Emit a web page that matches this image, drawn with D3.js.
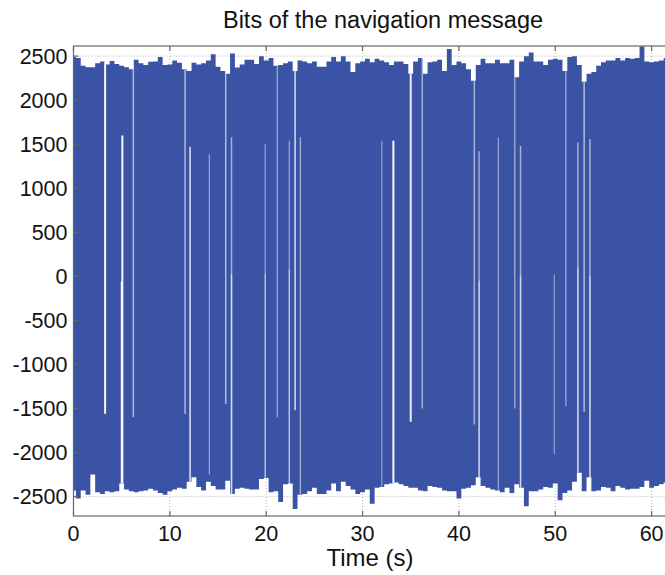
<!DOCTYPE html>
<html>
<head>
<meta charset="utf-8">
<script src="https://cdn.jsdelivr.net/npm/d3@7"></script>
<style>
  body { margin: 0; background: #fff; }
  text { font-family: "Liberation Sans", Arial, sans-serif; fill: #111; }
</style>
</head>
<body>
<div id="chart"></div>
<script>
// envelope of the correlator output, sampled every 0.5 s from 0 to 62 s
const sampleStep = 0.5;
const topEnv = [
  2490, 2480, 2390, 2375, 2375, 2420, 2440, 2405, 2445, 2410, 2390, 2375, 2350, 2460, 2420, 2400, 2435, 2440, 2490, 2400, 2405, 2450, 2425, 2350, 2330,
  2425, 2405, 2420, 2450, 2520, 2380, 2330, 2300, 2530, 2370, 2405, 2460, 2460, 2410, 2500, 2450, 2480, 2390, 2400, 2420, 2440, 2330, 2450, 2440, 2420,
  2440, 2380, 2380, 2440, 2490, 2440, 2500, 2440, 2320, 2420, 2440, 2470, 2430, 2470, 2450, 2430, 2400, 2440, 2440, 2410, 2300, 2440, 2480, 2300, 2430,
  2440, 2460, 2330, 2580, 2400, 2440, 2420, 2350, 2220, 2400, 2470, 2420, 2420, 2460, 2420, 2420, 2460, 2260, 2440, 2500, 2540, 2440, 2440, 2400, 2460,
  2470, 2460, 2330, 2490, 2500, 2400, 2210, 2300, 2320, 2390, 2430, 2450, 2450, 2480, 2450, 2480, 2470, 2480, 2610, 2440, 2430, 2440, 2450, 2480, 2470
];
const botEnv = [
  -2430, -2520, -2430, -2480, -2250, -2450, -2470, -2440, -2450, -2440, -2350, -2420, -2440, -2450, -2440, -2430, -2410, -2430, -2460, -2480, -2440, -2420, -2400, -2410, -2330,
  -2280, -2390, -2430, -2330, -2380, -2420, -2420, -2320, -2470, -2410, -2400, -2410, -2420, -2420, -2300, -2290, -2450, -2440, -2560, -2360, -2350, -2640, -2480, -2470, -2440,
  -2400, -2470, -2470, -2430, -2350, -2440, -2330, -2380, -2420, -2470, -2450, -2420, -2580, -2400, -2390, -2360, -2350, -2340, -2360, -2380, -2400, -2400, -2430, -2440, -2380,
  -2390, -2400, -2430, -2440, -2440, -2520, -2410, -2400, -2370, -2280, -2380, -2400, -2420, -2430, -2450, -2400, -2460, -2360, -2400, -2610, -2440, -2440, -2420, -2390, -2400,
  -2350, -2540, -2460, -2430, -2330, -2230, -2440, -2280, -2440, -2430, -2390, -2400, -2440, -2380, -2400, -2420, -2410, -2410, -2390, -2320, -2400, -2380, -2360, -2340, -2350
];

// bit transitions (white stripes): time, upper and lower value
const gapTime = [3.28, 5.07, 4.98, 6.21, 11.58, 12.1, 14.1, 15.8, 16.4, 16.4, 19.9, 19.9, 21.15, 22.4, 22.4, 23.0, 23.55,
                 32.0, 33.2, 35.0, 36.2, 41.6, 42.1, 42.1, 44.1, 45.8, 46.4, 46.4, 49.9, 51.1, 52.35, 52.35, 53.0, 53.6, 53.6];
const gapHigh = [2700, 1600, -60, 2700, 2700, 1470, 1385, 2700, 1580, 25, 1500, 30, 2700, 1540, 80, 2700, 1580,
                 1540, 1540, 2700, 2700, 2700, 1420, -50, 1575, 2700, 1480, 0, 25, 2700, 1520, 100, 2700, 1560, 0];
const gapLow  = [-1560, -2800, -2800, -1600, -1560, -2800, -2250, -1450, -2800, -2800, -2800, -2800, -1600, -2800, -2800, -1520, -2800,
                 -2800, -2800, -1650, -1500, -1680, -2800, -2800, -2800, -1500, -2800, -2800, -2020, -1470, -2800, -2800, -1540, -2800, -2800];

const yTicks = [-2500, -2000, -1500, -1000, -500, 0, 500, 1000, 1500, 2000, 2500];
const xTicks = [0, 10, 20, 30, 40, 50, 60];

// stripe look
const gapAlpha = [0.95, 0.95, 0.9, 0.6, 0.6, 0.85, 0.5, 0.6, 0.55, 0.5, 0.45, 0.4, 0.5, 0.45, 0.45, 0.8, 0.55,
                  0.45, 0.95, 0.9, 0.55, 0.55, 0.5, 0.45, 0.5, 0.55, 0.55, 0.45, 0.45, 0.5, 0.55, 0.45, 0.6, 0.55, 0.45];
const gapWidth = [2, 2, 1.5, 1.5, 1.5, 1.5, 1.2, 1.5, 1.5, 1.5, 1.3, 1.3, 1.3, 1.3, 1.3, 1.5, 1.3,
                  1.2, 2, 2, 1.5, 1.5, 1.5, 1.5, 1.2, 1.3, 1.5, 1.5, 1.2, 1.3, 1.5, 1.5, 1.5, 1.5, 1.5];

const width = 665, height = 575;
const margin = { top: 46, left: 73.5, bottom: 59 };
const plotW = 607, plotH = height - margin.top - margin.bottom;

const svg = d3.select("#chart").append("svg")
  .attr("width", width).attr("height", height);

const x = d3.scaleLinear().domain([0, 63]).range([margin.left, margin.left + plotW]);
const y = d3.scaleLinear().domain([-2720, 2615]).range([margin.top + plotH, margin.top]);

const samples = topEnv.map((t, i) => ({ t: i * sampleStep, hi: t, lo: botEnv[i] }));

// grid
const grid = svg.append("g").attr("stroke", "#b5b5b5").attr("stroke-dasharray", "1,2").attr("stroke-width", 1);
grid.selectAll(".gy").data(yTicks).enter().append("line")
  .attr("x1", x(0)).attr("x2", x(63)).attr("y1", d => y(d)).attr("y2", d => y(d));
grid.selectAll(".gx").data(xTicks.filter(d => d > 0)).enter().append("line")
  .attr("x1", d => x(d)).attr("x2", d => x(d)).attr("y1", y(-2720)).attr("y2", y(2615));

// signal envelope
const area = d3.area()
  .x(d => x(d.t))
  .y0(d => y(d.lo))
  .y1(d => y(d.hi))
  .curve(d3.curveStep);

svg.append("clipPath").attr("id", "sig").append("path").attr("d", area(samples));

svg.append("path")
  .attr("d", area(samples))
  .attr("fill", "#3a53a4");

// stripes where the bit flips
svg.append("g").attr("clip-path", "url(#sig)")
  .selectAll("line").data(gapTime).enter().append("line")
  .attr("x1", d => x(d)).attr("x2", d => x(d))
  .attr("y1", (d, i) => y(gapHigh[i]))
  .attr("y2", (d, i) => y(gapLow[i]))
  .attr("stroke", "#fff")
  .attr("stroke-opacity", (d, i) => gapAlpha[i])
  .attr("stroke-width", (d, i) => gapWidth[i]);

// axes box
const axisCol = "#666";
const box = svg.append("g").attr("stroke", axisCol).attr("stroke-width", 1.2).attr("fill", "none");
box.append("rect").attr("x", x(0)).attr("y", y(2615)).attr("width", x(63) - x(0)).attr("height", y(-2720) - y(2615));

// inward ticks
box.selectAll(".ty").data(yTicks).enter().append("line")
  .attr("x1", x(0)).attr("x2", x(0) + 5).attr("y1", d => y(d)).attr("y2", d => y(d));
box.selectAll(".tb").data(xTicks).enter().append("line")
  .attr("x1", d => x(d)).attr("x2", d => x(d)).attr("y1", y(-2720)).attr("y2", y(-2720) - 5);
box.selectAll(".tt").data(xTicks).enter().append("line")
  .attr("x1", d => x(d)).attr("x2", d => x(d)).attr("y1", y(2615)).attr("y2", y(2615) + 5);

// tick labels
svg.selectAll(".ly").data(yTicks).enter().append("text")
  .attr("x", x(0) - 6).attr("y", d => y(d)).attr("dy", "0.36em")
  .attr("text-anchor", "end").attr("font-size", "21.5px")
  .text(d => d);
svg.selectAll(".lx").data(xTicks).enter().append("text")
  .attr("x", d => x(d)).attr("y", 541)
  .attr("text-anchor", "middle").attr("font-size", "21.5px")
  .text(d => d);

svg.append("text")
  .attr("x", 370).attr("y", 566)
  .attr("text-anchor", "middle").attr("font-size", "24px")
  .text("Time (s)");

svg.append("text")
  .attr("x", 383).attr("y", 28)
  .attr("text-anchor", "middle").attr("font-size", "23.5px")
  .text("Bits of the navigation message");
</script>
</body>
</html>
